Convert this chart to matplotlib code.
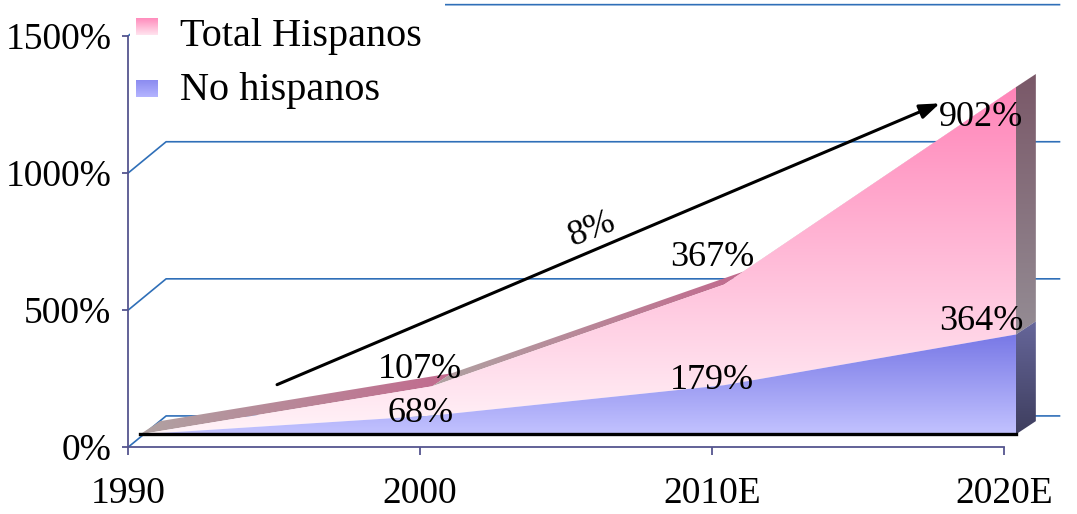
import numpy as np
import matplotlib.pyplot as plt
from matplotlib.patches import Polygon, Rectangle
from matplotlib.colors import LinearSegmentedColormap

plt.rcParams['font.family'] = ['Liberation Serif', 'DejaVu Serif']

years = ["1990", "2000", "2010E", "2020E"]
no_hispanos = [0, 68, 179, 364]
hispanos = [0, 107, 367, 902]
y_ticks = [0, 500, 1000, 1500]
y_labels = ["0%", "500%", "1000%", "1500%"]
trend_label = "8%"
trend_from = (0.51, 228)
trend_to = (2.78, 1254)

# fake 3d offsets, in (category, percent) units
sx, sy = 0.041, 47    # series plane sits a bit in front of the floor
dx, dy = 0.068, 48    # thickness of the area band
wx, wy = 0.13, 114    # back wall

x = np.arange(len(years))
base = np.array(no_hispanos, float)
top = base + np.array(hispanos, float)

fig = plt.figure(figsize=(10.77, 5.14), dpi=100)
ax = fig.add_axes([0.119, 0.130, 0.881, 0.870])


def gradient_poly(verts, c0, c1, horizontal=False, zorder=2):
    poly = Polygon(verts, closed=True, facecolor='none', edgecolor='none', zorder=zorder)
    ax.add_patch(poly)
    xs = [v[0] for v in verts]
    ys = [v[1] for v in verts]
    cmap = LinearSegmentedColormap.from_list('g', [c0, c1])
    g = np.linspace(0, 1, 256)
    img = g[None, :] if horizontal else g[:, None]
    im = ax.imshow(img, cmap=cmap, extent=[min(xs), max(xs), min(ys), max(ys)],
                   origin='lower', aspect='auto', interpolation='bilinear', zorder=zorder)
    im.set_clip_path(poly)


# back wall gridlines
for v in y_ticks:
    ax.plot([0, wx, 3.19], [v, v + wy, v + wy], color='#2f6fb8', lw=1.2, zorder=1)

xs = x + sx

# top band of the total area, one piece per segment
for i in range(len(x) - 1):
    p = [(xs[i], sy + top[i]), (xs[i + 1], sy + top[i + 1]),
         (xs[i + 1] + dx, sy + top[i + 1] + dy), (xs[i] + dx, sy + top[i] + dy)]
    gradient_poly(p, '#b0a2a2', '#c26a8e', horizontal=True, zorder=2)

# right side face
xe = xs[-1]
gradient_poly([(xe, sy + base[-1]), (xe, sy + top[-1]), (xe + dx, sy + top[-1] + dy),
               (xe + dx, sy + base[-1] + dy)], '#948c94', '#7a5868', zorder=3)
gradient_poly([(xe, sy), (xe, sy + base[-1]), (xe + dx, sy + base[-1] + dy),
               (xe + dx, sy + dy)], '#3e3e5e', '#66669a', zorder=3)

# front faces
pink = list(zip(xs, sy + top)) + list(zip(xs[::-1], sy + base[::-1]))
gradient_poly(pink, '#fff3f8', '#ff84b8', zorder=3)
blue = list(zip(xs, sy + base)) + [(xs[-1], sy), (xs[0], sy)]
gradient_poly(blue, '#c2c2ff', '#7878e6', zorder=3)

ax.plot([xs[0], xs[-1]], [sy, sy], color='black', lw=2.4, zorder=4)

# value labels
lab_kw = dict(fontsize=26, ha='center', va='center', zorder=6)
top_off = [0, 60, 97, -112]
base_off = [0, 9, 19, 48]
lab_dx = [0, 0.0, 0.0, -0.08]
for i in range(1, len(x)):
    ax.text(xs[i] + lab_dx[i] - 0.04, sy + top[i] + top_off[i], f"{hispanos[i]}%", **lab_kw)
    ax.text(xs[i] + lab_dx[i] - 0.04, sy + base[i] + base_off[i], f"{no_hispanos[i]}%", **lab_kw)

# growth arrow
ax.annotate('', xy=trend_to, xytext=trend_from, zorder=6,
            arrowprops=dict(arrowstyle='-|>,head_length=0.6,head_width=0.22',
                            lw=2.2, color='black', mutation_scale=20, shrinkA=0, shrinkB=0))
ax.text(1.59, 794, trend_label, fontsize=26, rotation=21, ha='center', va='center', zorder=6)

# legend
ax.add_patch(Rectangle((0.002, 0.754), 0.332, 0.25, transform=ax.transAxes,
                       facecolor='white', edgecolor='none', zorder=1.5))
legend_items = [("Total Hispanos", '#ffe4ef', '#ff8cbc', 0.922, 0.898),
                ("No hispanos", '#b4b4ff', '#8c8cf0', 0.783, 0.777)]
for name, c0, c1, y0, yb in legend_items:
    cmap = LinearSegmentedColormap.from_list('lg', [c0, c1])
    ax.imshow(np.linspace(0, 1, 64)[:, None], cmap=cmap, origin='lower', aspect='auto',
              extent=[0.0084, 0.0306, y0, y0 + 0.036], transform=ax.transAxes, zorder=2)
    ax.text(0.055, yb, name, fontsize=29, transform=ax.transAxes, va='baseline', zorder=3)

# axes
for s in ['top', 'right']:
    ax.spines[s].set_visible(False)
for s in ['left', 'bottom']:
    ax.spines[s].set_color('#55558f')
    ax.spines[s].set_linewidth(1.3)
ax.spines['left'].set_bounds(0, 1500)
ax.spines['bottom'].set_bounds(0, 3)
ax.set_xticks(x)
ax.set_xticklabels(years, fontsize=27)
ax.set_yticks(y_ticks)
ax.set_yticklabels(y_labels, fontsize=27)
ax.tick_params(axis='x', direction='out', length=6, width=1.3, color='#55558f', pad=15)
ax.tick_params(axis='y', direction='out', length=4, width=1.3, color='#55558f', pad=8)
ax.set_xlim(0, 3.25)
ax.set_ylim(0, 1631)
ax.patch.set_visible(False)

fig.savefig('out.png', dpi=100)
